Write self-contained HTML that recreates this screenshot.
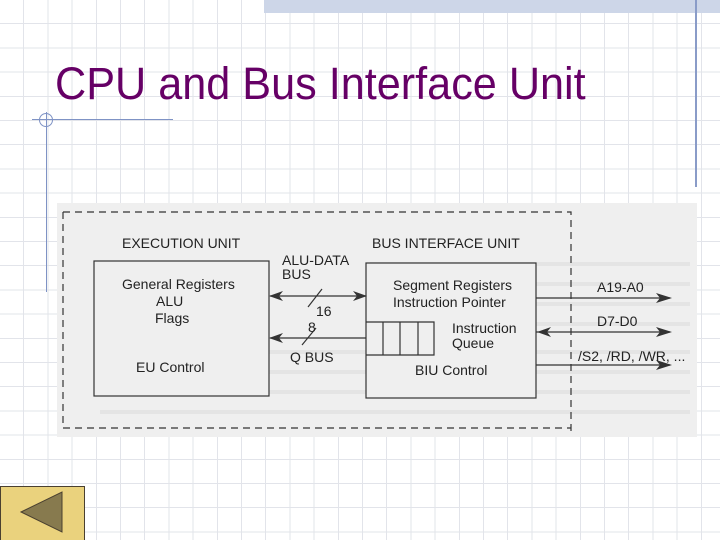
<!DOCTYPE html>
<html><head><meta charset="utf-8"><style>
html,body{margin:0;padding:0}
body{width:720px;height:540px;position:relative;overflow:hidden;background:#fff;
background-image:repeating-linear-gradient(to right,transparent 0 23.2px,#e2e4ea 23.2px 24.2px),repeating-linear-gradient(to bottom,transparent 0 23.2px,#e2e4ea 23.2px 24.2px);}
.t{position:absolute;font-family:"Liberation Sans",sans-serif;white-space:nowrap}
</style></head><body>
<div style="position:absolute;left:264px;top:0;width:456px;height:13px;background:#cdd6e8"></div>
<div style="position:absolute;left:695px;top:0;width:2px;height:187px;background:#8a9cc8"></div>
<div class="t" style="left:55px;top:58px;font-size:45px;color:#660066;transform:scaleX(0.96);transform-origin:0 0">CPU and Bus Interface Unit</div>
<div style="position:absolute;left:32px;top:119px;width:141px;height:1px;background:#7f93c5"></div>
<div style="position:absolute;left:46px;top:112px;width:1px;height:180px;background:#7f93c5"></div>
<div style="position:absolute;left:39px;top:113px;width:12px;height:12px;border:1px solid #7f93c5;border-radius:50%"></div>
<svg style="position:absolute;left:0;top:0" width="720" height="540">
<rect x="57" y="203" width="640" height="234" fill="#efefef"/>
<g fill="#e4e4e4">
<rect x="370" y="262" width="320" height="4"/><rect x="370" y="282" width="320" height="4"/><rect x="370" y="302" width="320" height="4"/><rect x="370" y="322" width="320" height="4"/><rect x="100" y="350" width="590" height="4"/><rect x="100" y="370" width="590" height="4"/><rect x="100" y="390" width="590" height="4"/><rect x="100" y="410" width="590" height="4"/>
</g>
<g stroke="#333" stroke-width="1.2" fill="none">
<path d="M63 212 H571 V432 M63 212 V428 H571" stroke-dasharray="7,5"/>
<rect x="94" y="261" width="175" height="135" fill="#efefef"/>
<rect x="366" y="263" width="170" height="135" fill="#efefef"/>
<path d="M366 322 H434 V355 H366 M383 322 V355 M400 322 V355 M418 322 V355"/>
<path d="M270 296 H366 M366 338 H270 M536 298 H670 M536 332 H670 M536 365 H670"/>
<path d="M308 307 L322 289 M302 345 L316 328"/>
</g>
<g fill="#333">
<path d="M269 296 l14 -5 l-4 5 l4 5z M367 296 l-14 -5 l4 5 l-4 5z M269 338 l14 -5 l-4 5 l4 5z"/>
<path d="M672 298 l-16 -5 l4 5 l-4 5z M672 332 l-16 -5 l4 5 l-4 5z M537 332 l14 -5 l-4 5 l4 5z M672 365 l-16 -5 l4 5 l-4 5z"/>
</g>
<g font-family="Liberation Sans,sans-serif" font-size="14" fill="#222">
<text x="122" y="248">EXECUTION UNIT</text>
<text x="372" y="248">BUS INTERFACE UNIT</text>
<text x="122" y="289">General Registers</text>
<text x="156" y="306">ALU</text>
<text x="155" y="323">Flags</text>
<text x="136" y="372">EU Control</text>
<text x="282" y="265">ALU-DATA</text>
<text x="282" y="279">BUS</text>
<text x="316" y="316">16</text>
<text x="308" y="332">8</text>
<text x="290" y="362">Q BUS</text>
<text x="393" y="290">Segment Registers</text>
<text x="393" y="307">Instruction Pointer</text>
<text x="452" y="333">Instruction</text>
<text x="452" y="348">Queue</text>
<text x="415" y="375">BIU Control</text>
<text x="597" y="292">A19-A0</text>
<text x="597" y="326">D7-D0</text>
<text x="578" y="361">/S2, /RD, /WR, ...</text>
</g>
<rect x="0.5" y="486.5" width="84" height="56" fill="#ead27d" stroke="#4a4030"/>
<path d="M21 512 L62 492 L62 532 Z" fill="#877a4e" stroke="#4a4030"/>
</svg>
</body></html>
